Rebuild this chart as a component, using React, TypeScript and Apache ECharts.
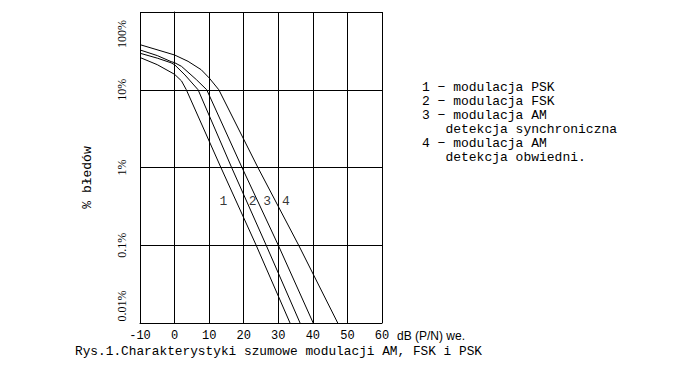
import React, { useEffect, useRef } from "react";
import * as echarts from "echarts";

// ---- data ----
const xTickValues = [-10, 0, 10, 20, 30, 40, 50, 60];
const xTickLabels = ["-10", "0", "10", "20", "30", "40", "50", "60"];
const yTickValues = [0.01, 0.1, 1, 10, 100];
const yTickLabels = ["0.01%", "0.1%", "1%", "10%", "100%"];

const curveNumbers = ["1", "2", "3", "4"];
const curveNames = [
  "modulacja PSK",
  "modulacja FSK",
  "modulacja AM\ndetekcja synchroniczna",
  "modulacja AM\ndetekcja obwiedni.",
];

// S/N [dB] and error rate [%] for each curve
const snr1 = [-10, -5, 0, 2, 3.4, 13.4, 23.6, 33.4];
const err1 = [26, 21, 15.8, 13, 10, 1, 0.1, 0.01];
const snr2 = [-10, -5, -1, 0, 3, 6.8, 16.5, 26.5, 36.3];
const err2 = [29.5, 25.5, 22.2, 21, 15.5, 10, 1, 0.1, 0.01];
const snr3 = [-10, -5, -1, 0, 2, 6.3, 9.3, 19.5, 30, 40.1];
const err3 = [32.5, 27.5, 23, 22.3, 20, 13.5, 10, 1, 0.1, 0.01];
const snr4 = [-10, 0, 3.9, 7.7, 10, 12.8, 24.1, 35.9, 47.2];
const err4 = [38, 28, 23.2, 18.1, 14.2, 10, 1, 0.1, 0.01];

// curve number annotations
const markSnr = [14.1, 22.6, 26.8, 32.2];
const markErr = [0.37, 0.37, 0.37, 0.37];

const yAxisTitle = "% błedów";
const xAxisTitle = "dB (P/N) we.";
const caption = "Rys.1.Charakterystyki szumowe modulacji AM, FSK i PSK";

const MONO = "'Liberation Mono', 'DejaVu Sans Mono', monospace";
const SANS = "'Liberation Sans', 'DejaVu Sans', sans-serif";
const SERIF = "'Liberation Serif', serif";

export default function App() {
  const ref = useRef<HTMLDivElement>(null);

  useEffect(() => {
    if (!ref.current) return;
    const chart = echarts.init(ref.current, null, { renderer: "svg" });

    const curves = [
      { snr: snr1, err: err1 },
      { snr: snr2, err: err2 },
      { snr: snr3, err: err3 },
      { snr: snr4, err: err4 },
    ];

    const series: any[] = curves.map((c, k) => ({
      type: "line",
      name: curveNumbers[k],
      data: c.snr.map((d, i) => [d, c.err[i]]),
      symbol: "none",
      silent: true,
      lineStyle: { color: "#000", width: 1 },
    }));

    series.push({
      type: "scatter",
      silent: true,
      symbolSize: 1,
      itemStyle: { color: "rgba(0,0,0,0)" },
      data: markSnr.map((x, i) => ({ name: curveNumbers[i], value: [x, markErr[i]] })),
      label: {
        show: true,
        position: "inside",
        formatter: (p: any) => p.name,
        color: "#000",
        fontFamily: MONO,
        fontSize: 13,
      },
    });

    // legend text lines
    const legendLines: string[] = [];
    curveNames.forEach((n, i) => {
      n.split("\n").forEach((ln, j) => {
        legendLines.push(j === 0 ? `${curveNumbers[i]} − ${ln}` : `   ${ln}`);
      });
    });

    const txt = (text: string, x: number, y: number, extra: any = {}) => ({
      type: "text",
      x,
      y,
      silent: true,
      ...extra,
      style: {
        text,
        fill: "#000",
        fontFamily: MONO,
        fontSize: 13,
        align: "left",
        textAlign: "left",
        verticalAlign: "middle",
        textVerticalAlign: "middle",
        ...(extra.style || {}),
      },
    });

    const graphic: any[] = [
      txt(yAxisTitle, 87.5, 177.5, {
        rotation: Math.PI / 2,
        style: { align: "center", textAlign: "center" },
      }),
      txt(xAxisTitle, 397, 336, { style: { fontSize: 12, fontFamily: SANS } }),
      txt(caption, 75, 351, { style: { fontSize: 12.8 } }),
      ...legendLines.map((l, i) => txt(l, 422, 87 + i * 14)),
    ];

    const option: any = {
      animation: false,
      backgroundColor: "#fff",
      grid: { left: 140, top: 12, width: 242, height: 311, containLabel: false },
      xAxis: {
        type: "value",
        min: xTickValues[0],
        max: xTickValues[xTickValues.length - 1],
        interval: 10,
        axisLine: { show: true, lineStyle: { color: "#000", width: 1 } },
        axisTick: { show: false },
        splitLine: { show: true, lineStyle: { color: "#000", width: 1 } },
        axisLabel: {
          color: "#000",
          fontFamily: MONO,
          fontSize: 12,
          margin: 7,
          formatter: (v: number) => {
            const i = xTickValues.indexOf(v);
            return i >= 0 ? xTickLabels[i] : "";
          },
        },
      },
      yAxis: {
        type: "log",
        logBase: 10,
        min: yTickValues[0],
        max: yTickValues[yTickValues.length - 1],
        axisLine: { show: true, lineStyle: { color: "#000", width: 1 } },
        axisTick: { show: false },
        splitLine: { show: true, lineStyle: { color: "#000", width: 1 } },
        axisLabel: {
          color: "#000",
          fontFamily: SERIF,
          fontSize: 12,
          rotate: 90,
          margin: 12,
          formatter: (v: number) => {
            const i = Math.round(Math.log10(v)) + 2;
            const s = yTickLabels[i] ?? "";
            if (i === yTickLabels.length - 1) return `{top|${s}}`;
            if (i === 0) return `{bot|${s}}`;
            return s;
          },
          rich: {
            top: { fontFamily: SERIF, fontSize: 12, color: "#000", padding: [0, 44, 0, 0] },
            bot: { fontFamily: SERIF, fontSize: 12, color: "#000", padding: [0, 0, 0, 34] },
          },
        },
      },
      series,
      graphic,
    };

    chart.setOption(option);
    return () => chart.dispose();
  }, []);

  return (
    <div
      ref={ref}
      style={{ position: "fixed", left: 0, top: 0, width: 690, height: 367, background: "#fff" }}
    />
  );
}
